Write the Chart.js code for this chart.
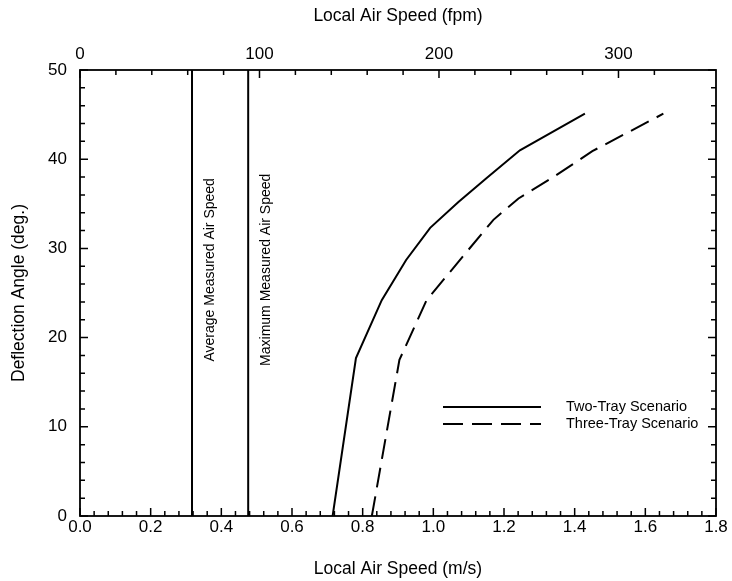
<!DOCTYPE html>
<html>
<head>
<meta charset="utf-8">
<script src="https://cdn.jsdelivr.net/npm/chart.js@4.4.0/dist/chart.umd.min.js"></script>
<style>
html,body{margin:0;padding:0;background:#fff}
#wrap{width:732px;height:581px}
</style>
</head>
<body>
<div id="wrap"><canvas id="c"></canvas></div>
<script>
const MPS_TO_FPM = 196.85;

// curves: speed (m/s) vs deflection angle (deg.)
const twoTraySpeed   = [0.715, 0.781, 0.854, 0.923, 0.991, 1.071, 1.151, 1.245, 1.429];
const twoTrayAngle   = [0, 17.7, 24.2, 28.7, 32.3, 35.2, 37.9, 41.0, 45.1];
const threeTraySpeed = [0.826, 0.904, 0.981, 1.090, 1.170, 1.241, 1.340, 1.450, 1.651];
const threeTrayAngle = [0, 17.5, 24.2, 29.4, 33.2, 35.6, 38.0, 40.9, 45.1];
const seriesNames = ['Two-Tray Scenario', 'Three-Tray Scenario'];

// measured air speed reference lines
const refSpeeds = [0.317, 0.476];
const refNames = ['Average Measured Air Speed', 'Maximum Measured Air Speed'];
const refLabelAngle = 27.6;

// axes
const speedMin = 0, speedMax = 1.8, speedMajor = 0.2, speedMinor = 0.04;
const angleMin = 0, angleMax = 50, angleMajor = 10, angleMinor = 2;
const fpmMajor = 100, fpmMinor = 20;

const FONT = "'Liberation Sans', Arial, sans-serif";
Chart.defaults.font.family = FONT;
Chart.defaults.color = '#000';

const pts = (xs, ys) => xs.map((x, i) => ({x: x, y: ys[i]}));
const isMult = (v, s) => Math.abs(v / s - Math.round(v / s)) < 1e-6;

const refSets = refSpeeds.map((s, i) => ({
  label: refNames[i], data: [{x: s, y: angleMin}, {x: s, y: angleMax}],
  showLine: true, borderColor: '#000', borderWidth: 2, pointRadius: 0,
  xAxisID: 'x', yAxisID: 'y', isRef: true
}));

// inward tick marks, frame, legend and rotated labels
const frameTicks = {
  id: 'frameTicks',
  afterDatasetsDraw(chart) {
    const {ctx, chartArea: a, scales} = chart;
    ctx.save();
    ctx.strokeStyle = '#000';
    ctx.lineWidth = 1.8;
    ctx.strokeRect(a.left, a.top, a.right - a.left, a.bottom - a.top);
    ctx.lineWidth = 1.5;
    ctx.beginPath();
    scales.x.ticks.forEach(t => {
      if (!isMult(t.value, speedMinor)) return;
      const px = scales.x.getPixelForValue(t.value);
      const len = isMult(t.value, speedMajor) ? 8 : 5;
      ctx.moveTo(px, a.bottom); ctx.lineTo(px, a.bottom - len);
    });
    scales.x2.ticks.forEach(t => {
      if (!isMult(t.value, fpmMinor)) return;
      const px = scales.x2.getPixelForValue(t.value);
      const len = isMult(t.value, fpmMajor) ? 8 : 5;
      ctx.moveTo(px, a.top); ctx.lineTo(px, a.top + len);
    });
    scales.y.ticks.forEach(t => {
      if (!isMult(t.value, angleMinor)) return;
      const py = scales.y.getPixelForValue(t.value);
      const len = isMult(t.value, angleMajor) ? 8 : 5;
      ctx.moveTo(a.left, py); ctx.lineTo(a.left + len, py);
      ctx.moveTo(a.right, py); ctx.lineTo(a.right - len, py);
    });
    ctx.stroke();

    // rotated labels beside the reference lines
    ctx.fillStyle = '#000';
    ctx.font = '14px ' + FONT;
    ctx.textAlign = 'center';
    ctx.textBaseline = 'middle';
    refSpeeds.forEach((s, i) => {
      const px = scales.x.getPixelForValue(s) + 18;
      const py = scales.y.getPixelForValue(refLabelAngle);
      ctx.save();
      ctx.translate(px, py);
      ctx.rotate(-Math.PI / 2);
      ctx.fillText(refNames[i], 0, 0);
      ctx.restore();
    });

    // legend
    const lx0 = 443, lx1 = 541, tx = 566, ly = [407, 424];
    ctx.textAlign = 'left';
    ctx.font = '14.5px ' + FONT;
    chart.data.datasets.filter(d => !d.isRef).forEach((d, i) => {
      ctx.beginPath();
      ctx.lineWidth = d.borderWidth;
      ctx.setLineDash(d.borderDash || []);
      ctx.moveTo(lx0, ly[i]); ctx.lineTo(lx1, ly[i]);
      ctx.stroke();
      ctx.setLineDash([]);
      ctx.fillText(d.label, tx, ly[i]);
    });
    ctx.restore();
  }
};

new Chart(document.getElementById('c'), {
  type: 'scatter',
  data: {
    datasets: [
      {label: seriesNames[0], data: pts(twoTraySpeed, twoTrayAngle), showLine: true,
       borderColor: '#000', borderWidth: 2, pointRadius: 0, xAxisID: 'x', yAxisID: 'y'},
      {label: seriesNames[1], data: pts(threeTraySpeed, threeTrayAngle), showLine: true,
       borderColor: '#000', borderWidth: 2, borderDash: [20, 9], pointRadius: 0, xAxisID: 'x', yAxisID: 'y'},
      ...refSets
    ]
  },
  options: {
    responsive: true, maintainAspectRatio: false, animation: false,
    layout: {padding: 0},
    plugins: {legend: {display: false}, tooltip: {enabled: false}},
    scales: {
      x: {
        type: 'linear', position: 'bottom', min: speedMin, max: speedMax,
        grid: {display: false, drawTicks: false}, border: {display: false},
        ticks: {stepSize: speedMinor, autoSkip: false, maxRotation: 0, padding: 1,
          font: {size: 17},
          callback: v => isMult(v, speedMajor) ? v.toFixed(1) : ''},
        title: {display: true, text: 'Local Air Speed (m/s)', font: {size: 17.5}, padding: {top: 0, bottom: 1}},
        afterFit: s => { s.height = 65; }
      },
      x2: {
        type: 'linear', position: 'top', min: speedMin * MPS_TO_FPM, max: speedMax * MPS_TO_FPM,
        grid: {display: false, drawTicks: false}, border: {display: false},
        ticks: {stepSize: fpmMinor, autoSkip: false, maxRotation: 0, padding: 5,
          font: {size: 17},
          callback: v => isMult(v, fpmMajor) ? String(Math.round(v)) : ''},
        title: {display: true, text: 'Local Air Speed (fpm)', font: {size: 17.5}, padding: {top: 6, bottom: 0}},
        afterFit: s => { s.height = 70; }
      },
      y: {
        type: 'linear', position: 'left', min: angleMin, max: angleMax,
        grid: {display: false, drawTicks: false}, border: {display: false},
        ticks: {stepSize: angleMinor, autoSkip: false, padding: 13,
          font: {size: 17},
          callback: v => isMult(v, angleMajor) ? String(v) : ''},
        title: {display: true, text: 'Deflection Angle (deg.)', font: {size: 17.5}, padding: {top: 9, bottom: 0}},
        afterFit: s => { s.width = 80; }
      },
      y2: {
        type: 'linear', position: 'right', min: angleMin, max: angleMax,
        grid: {display: false, drawTicks: false}, border: {display: false},
        ticks: {display: false},
        afterFit: s => { s.width = 16; }
      }
    }
  },
  plugins: [frameTicks]
});
</script>
</body>
</html>
